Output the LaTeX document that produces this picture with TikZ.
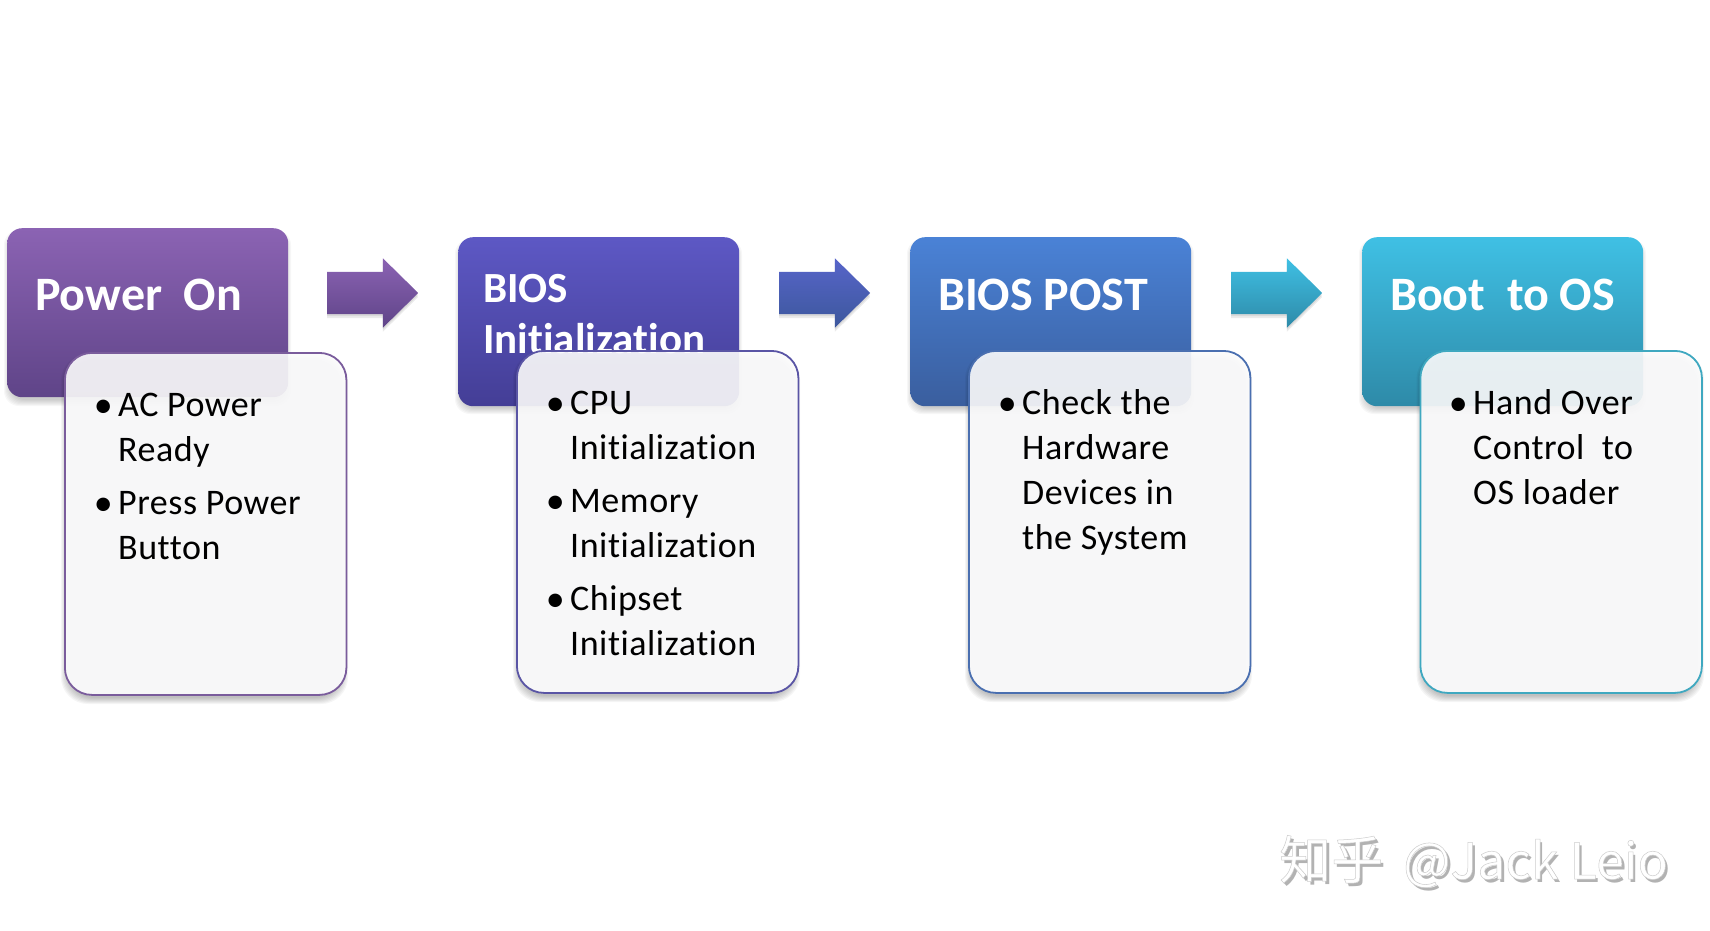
\documentclass[tikz,border=0pt]{standalone}
\usepackage{fontspec}
\setmainfont[Ligatures=NoCommon]{Carlito}
\newfontfamily\bodyfont[Ligatures=NoCommon,LetterSpace=1.5]{Carlito}
\newfontfamily\cjkwm{Noto Sans CJK SC}
\usetikzlibrary{shapes.arrows,shadows}
\definecolor{pA}{HTML}{8B63B3}\definecolor{pB}{HTML}{5F4488}\definecolor{pE}{HTML}{7A5C9C}
\definecolor{qA}{HTML}{5D58C4}\definecolor{qB}{HTML}{443E96}\definecolor{qE}{HTML}{5A55A5}
\definecolor{rA}{HTML}{4A82D6}\definecolor{rB}{HTML}{3A5E9E}\definecolor{rE}{HTML}{4A6FB0}
\definecolor{sA}{HTML}{3FC0E4}\definecolor{sB}{HTML}{2E8AA8}\definecolor{sE}{HTML}{3FA8C0}
\definecolor{card}{HTML}{FDFDFE}
\newcommand{\softshadow}[6]{% x1 y1 x2 y2 radius opacity
  \foreach \k in {0,...,6}{
    \fill[black,fill opacity=#6,rounded corners=#5pt]
      ({#1-3+\k},{#2+2+\k}) rectangle ({#3+3-\k},{#4+9-\k});}}
\tikzset{
  titlebox/.style n args={2}{rectangle,rounded corners=15pt,minimum width=281pt,minimum height=169pt,inner sep=0pt,anchor=north west,top color=#1,bottom color=#2,draw=none},
  cardbox/.style={rectangle,rounded corners=27pt,minimum width=281.5pt,minimum height=342pt,inner sep=0pt,anchor=north west,fill=card,fill opacity=.9,draw=#1,draw opacity=1,line width=1.8pt},
  titletext/.style={text=white,inner sep=0pt,anchor=base west,font=\fontsize{#1}{51}\selectfont\bfseries},
  bodytext/.style={text=black,inner sep=0pt,anchor=north west,align=left,font=\bodyfont\fontsize{36}{45}\selectfont},
  blockarrow/.style n args={2}{single arrow,minimum height=91pt,inner xsep=0pt,inner ysep=21pt,single arrow head extend=13.5pt,single arrow tip angle=89,top color=#1,bottom color=#2,draw=none,anchor=west,
    general shadow={fill=black,opacity=.08,shadow yshift=-2pt},general shadow={fill=black,opacity=.08,shadow yshift=-4pt}}
}
\newcommand{\itm}[1]{\llap{\raisebox{-1pt}{\fontsize{38}{45}\selectfont\textbullet}\hspace{5.5pt}}#1}
\begin{document}
\begin{tikzpicture}[x=1pt,y=-1pt]
\useasboundingbox (0,0) rectangle (1710,931);
% Panel 1
\softshadow{7}{228}{288}{397}{15}{.03}
\node[titlebox={pA}{pB}] (tA) at (7,228) {};
\node[titletext=48] (ttA) at (35,310) {Power\ \ On};
\softshadow{64}{352}{345}{695}{27}{.04}
\node[cardbox=pE] (cA) at (64,352) {};
\node[bodytext] (bA) at (118,393) {\itm{AC Power}\\Ready\\[8pt]\itm{Press Power}\\Button};
% Panel 2
\softshadow{458}{237}{739}{405}{15}{.03}
\node[titlebox={qA}{qB}] (tB) at (458,237) {};
\node[titletext=43] (ttB) at (483,302) {BIOS};
\node[titletext=43] (ttBb) at (483,353) {Initialization};
\softshadow{516}{350}{797}{693}{27}{.04}
\node[cardbox=qE] (cB) at (516,350) {};
\node[bodytext] (bB) at (570,391) {\itm{CPU}\\Initialization\\[8pt]\itm{Memory}\\Initialization\\[8pt]\itm{Chipset}\\Initialization};
% Panel 3
\softshadow{910}{237}{1191}{405}{15}{.03}
\node[titlebox={rA}{rB}] (tC) at (910,237) {};
\node[titletext=48] (ttC) at (938,310) {BIOS POST};
\softshadow{968}{350}{1249}{693}{27}{.04}
\node[cardbox=rE] (cC) at (968,350) {};
\node[bodytext] (bC) at (1022,389) {\itm{Check the}\\Hardware\\Devices in\\the System};
% Panel 4
\softshadow{1362}{237}{1643}{405}{15}{.03}
\node[titlebox={sA}{sB}] (tD) at (1362,237) {};
\node[titletext=48] (ttD) at (1390,310) {Boot\ \ to OS};
\softshadow{1419.5}{350}{1701}{693}{27}{.04}
\node[cardbox=sE] (cD) at (1419.5,350) {};
\node[bodytext] (bD) at (1473,389) {\itm{Hand Over}\\Control\ \ to\\OS loader};
% Arrows
\node[blockarrow={pA}{pB}] (aA) at (327,293) {};
\node[blockarrow={qA!70!rA}{rB!80!qB}] (aB) at (779,293) {};
\node[blockarrow={sA}{sB}] (aC) at (1231,293) {};
% Watermark
\newcommand{\wmtext}{知乎\hspace{20pt}{\fontsize{50}{60}\selectfont @Jack Leio}}
\node[inner sep=0pt,anchor=base west,text=black!30,font=\cjkwm\fontsize{52}{60}\selectfont] (wmS) at (1282,882) {\wmtext};
\node[inner sep=0pt,anchor=base west,text=white,font=\cjkwm\fontsize{52}{60}\selectfont] (wm) at (1279,879) {\special{pdf:code q 2 Tr 0.5 w 0.8 G}\wmtext\special{pdf:code Q}};
\end{tikzpicture}
\end{document}
